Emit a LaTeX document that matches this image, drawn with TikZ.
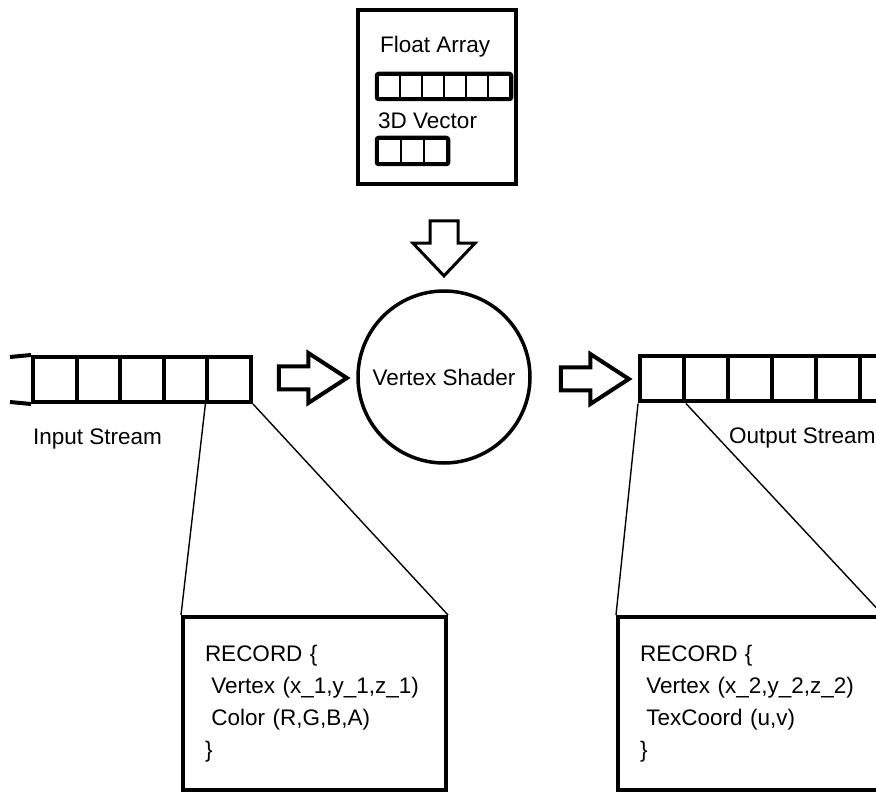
\documentclass[tikz,border=0pt]{standalone}
\usepackage{fontspec}
\setmainfont{Liberation Sans}
\usepackage{tikz}
\usetikzlibrary{shapes,arrows,positioning,fit}

\begin{document}
\begin{tikzpicture}[
			x=1pt,
			y=-1pt,
			txt/.style={
				inner sep=0pt,
				font=\fontsize{22.5}{32}\selectfont
			},
			panel/.style={
				rectangle,
				draw,
				line width=4pt
			},
			cell/.style={
				rectangle,
				draw,
				line width=4pt,
				minimum width=43.6pt,
				minimum height=45pt,
				inner sep=0pt
			},
			tinycell/.style={
				rectangle,
				draw,
				line width=2.5pt,
				minimum height=23pt,
				inner sep=0pt
			},
			record/.style={
				rectangle,
				draw,
				line width=4pt,
				minimum height=173pt,
				text width=219pt,
				inner xsep=22pt,
				align=left,
				font=\fontsize{22.5}{32}\selectfont
			},
			blockarrow/.style={
				single arrow,
				draw,
				line width=4pt,
				inner xsep=0pt,
				inner ysep=9.5pt,
				minimum height=68pt,
				single arrow head extend=13.5pt,
				single arrow tip angle=66
			},
			link/.style={line width=1.4pt}
			]
			\useasboundingbox (0,0) rectangle (876,794);
			\clip (0,0) rectangle (876,794);
			% Data types box on top
			\node[panel, minimum width=158pt, minimum height=174pt] (types) at (437,97) {};
			\node[txt, anchor=base west] (floatlbl) at (380,53) {Float Array};
			\foreach \i in {0,...,5}
				\node[tinycell, minimum width=22pt] (fa\i) at ({389+22*\i},86.5) {};
			\node[draw, line width=4pt, rounded corners=2pt, inner sep=0pt, fit=(fa0)(fa5)] (floatarr) {};
			\node[txt, anchor=base west] (veclbl) at (378,129) {3D Vector};
			\foreach \i in {0,...,2}
				\node[tinycell, minimum width=23pt, minimum height=24pt] (vec\i) at ({389.5+23*\i},151) {};
			\node[draw, line width=4pt, rounded corners=2pt, inner sep=0pt, fit=(vec0)(vec2)] (vecarr) {};
			% Arrow into the shader
			\node[blockarrow, line width=3pt, inner ysep=12.5pt, minimum height=55pt, single arrow head extend=17pt,
				single arrow tip angle=87, rotate=-90] (constin) at (444,241) {};
			% The shader
			\node[circle, draw, line width=3.5pt, minimum size=172pt, txt] (shader) at (444,377) {Vertex Shader};
			% Input stream (open on the left)
			\foreach \i in {0,...,4}
				\node[cell] (in\i) at ({54.8+43.6*\i},379.5) {};
			\draw[line width=4pt] (10,357) -- (in0.north west);
			\draw[line width=4pt] (10,402) -- (in0.south west);
			\node[txt, anchor=base west] (inlbl) at (33,444) {Input Stream};
			\node[blockarrow] (toshader) at (304,378) {};
			\node[blockarrow] (fromshader) at (586,379) {};
			% Output stream (runs off on the right)
			\foreach \i in {0,...,6}
				\node[cell, minimum width=43.9pt] (out\i) at ({662+43.9*\i},379) {};
			\node[txt, anchor=base west] (outlbl) at (729,443) {Output Stream};
			% Record boxes
			\node[record] (recin) at (314.5,703.5) {RECORD \{\\\hspace*{.28em}Vertex (x\_1,y\_1,z\_1)\\\hspace*{.28em}Color (R,G,B,A)\\\}};
			\node[record] (recout) at (749.5,703.5) {RECORD \{\\\hspace*{.28em}Vertex (x\_2,y\_2,z\_2)\\\hspace*{.28em}TexCoord (u,v)\\\}};
			% Zoom lines from one element to its record
			\draw[link] (in4.south west) -- (recin.north west);
			\draw[link] (in4.south east) -- (recin.north east);
			\draw[link] (out0.south west) -- (recout.north west);
			\draw[link] (out0.south east) -- (recout.north east);
		\end{tikzpicture}
\end{document}
